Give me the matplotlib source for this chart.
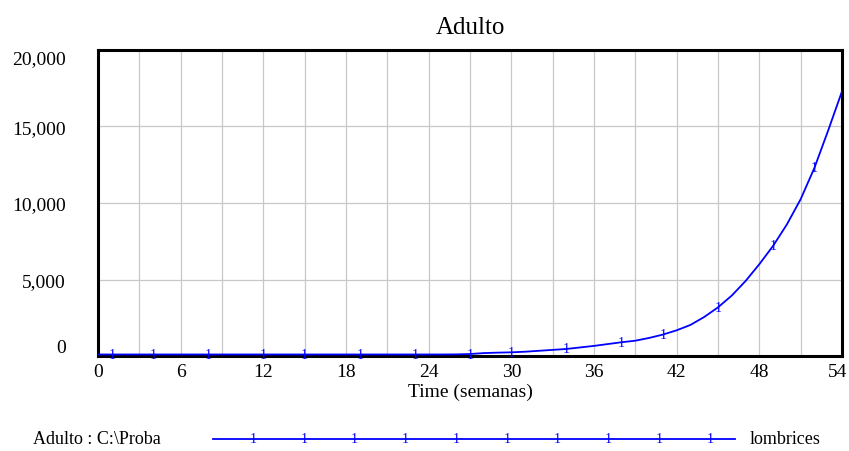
import numpy as np
import matplotlib
matplotlib.use("Agg")
import matplotlib.pyplot as plt
import matplotlib.transforms as mtransforms
from matplotlib.lines import Line2D

# Datos (semanas 0..54)
semanas = np.arange(0, 55)
adulto = np.array([
    100, 100, 100, 100, 100, 100, 100, 100, 100, 100,
    100, 100, 100, 100, 100, 100, 100, 100, 100, 100,
    100, 100, 100, 100, 100, 100, 105, 130, 190, 220,
    240, 280, 340, 400, 460, 560, 660, 780, 900, 1000,
    1180, 1400, 1680, 2030, 2550, 3180, 3950, 4900, 6000, 7200,
    8600, 10250, 12300, 14750, 17300,
])
# semanas donde aparece la etiqueta "1" sobre la curva
semanas_marca = [1, 4, 8, 12, 15, 19, 23, 27, 30, 34, 38, 41, 45, 49, 52]
xticks = list(range(0, 55, 6))
yticks = [0, 5000, 10000, 15000, 20000]
ytick_labels = ["0", "5,000", "10,000", "15,000", "20,000"]

plt.rcParams['font.family'] = ['Liberation Serif', 'DejaVu Serif']
azul = "#0000ff"

fig = plt.figure(figsize=(8.49, 4.52), dpi=100)
ax = fig.add_axes([98 / 849, 1 - 357 / 452, 744 / 849, 306 / 452])

ax.plot(semanas, adulto, color=azul, lw=1.3, zorder=3)
for s in semanas_marca:
    ax.text(s, np.interp(s, semanas, adulto), "1", color=azul, fontsize=10,
            ha="center", va="center", zorder=4)

ax.set_xlim(0, 54)
ax.set_ylim(0, 20000)
ax.set_xticks(np.arange(0, 55, 3))
ax.set_xticklabels([str(t) if t in xticks else "" for t in range(0, 55, 3)])
ax.set_yticks(yticks)
ax.set_yticklabels(ytick_labels)
ax.grid(True, color="#c8c8c8", lw=0.9)
ax.tick_params(axis="both", length=0, labelsize=14)
ax.tick_params(axis="y", pad=23)
ax.tick_params(axis="x", pad=5)
labs = ax.get_yticklabels()
labs[0].set_va("bottom")
labs[-1].set_va("top")
# la ultima etiqueta del eje x queda pegada al borde
ultimo = ax.get_xticklabels()[-1]
ultimo.set_ha("right")
ultimo.set_transform(ultimo.get_transform() + mtransforms.ScaledTranslation(5 / 100, 0, fig.dpi_scale_trans))
for sp in ax.spines.values():
    sp.set_linewidth(2.2)
    sp.set_color("black")

ax.set_title("Adulto", fontsize=18, pad=12)
ax.set_xlabel("Time (semanas)", fontsize=14, labelpad=2)

# Leyenda al estilo Vensim
ly = 1 - 440 / 452
fig.text(33 / 849, ly, "Adulto : C:\\Proba", fontsize=13, va="center", ha="left")
fig.add_artist(Line2D([213 / 849, 735 / 849], [ly, ly], color=azul, lw=1.3,
                      transform=fig.transFigure))
for px in np.linspace(253, 710, 10):
    fig.text(px / 849, ly, "1", color=azul, fontsize=10, ha="center", va="center")
fig.text(750 / 849, ly, "lombrices", fontsize=13, va="center", ha="left")

fig.savefig("out.png", dpi=100)
